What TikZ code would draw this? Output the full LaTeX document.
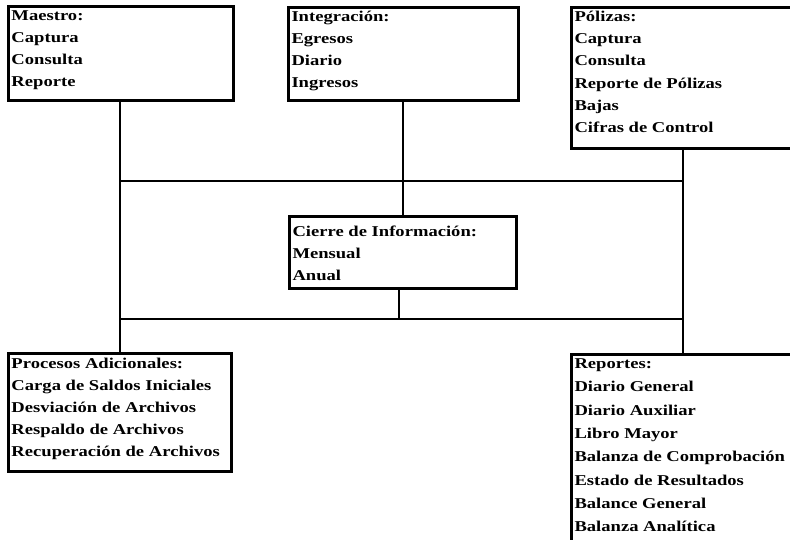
\documentclass[tikz,border=0pt]{standalone}
\usepackage{fontspec}
\setmainfont{Liberation Serif}[FakeStretch=1.24]
% width, height, first-line offset, line spacing, text
\newcommand{\boxtxt}[5]{\parbox[c][#2][t]{#1}{\baselineskip=#4\relax\rule{0pt}{#3}#5}}
\begin{document}
\begin{tikzpicture}[x=1pt,y=-1pt,
  mbox/.style={draw, line width=3pt, rectangle, anchor=north west, inner xsep=3pt, inner ysep=0pt,
    font=\fontsize{15}{22}\selectfont\bfseries},
  conn/.style={line width=1.6pt}]
\useasboundingbox (0,0) rectangle (790,539);
\clip (0,0) rectangle (790,539);
\node[mbox] (maestro) at (7,5) {\boxtxt{219pt}{94pt}{14pt}{22pt}{Maestro:\\Captura\\Consulta\\Reporte}};
\node[mbox] (integ) at (287,6) {\boxtxt{224pt}{93pt}{13.5pt}{22pt}{Integración:\\Egresos\\Diario\\Ingresos}};
\node[mbox] (polizas) at (570,6) {\boxtxt{234pt}{141pt}{14pt}{22.2pt}{Pólizas:\\Captura\\Consulta\\Reporte de Pólizas\\Bajas\\Cifras de Control}};
\node[mbox] (cierre) at (288,215) {\boxtxt{221pt}{72pt}{20pt}{22pt}{Cierre de Información:\\Mensual\\Anual}};
\node[mbox] (procesos) at (7,352) {\boxtxt{217pt}{118pt}{14.5pt}{22pt}{Procesos Adicionales:\\Carga de Saldos Iniciales\\Desviación de Archivos\\Respaldo de Archivos\\Recuperación de Archivos}};
\node[mbox] (reportes) at (570,353) {\boxtxt{234pt}{200pt}{14pt}{23.3pt}{Reportes:\\Diario General\\Diario Auxiliar\\Libro Mayor\\Balanza de Comprobación\\Estado de Resultados\\Balance General\\Balanza Analítica}};
\coordinate (lx) at (120,0);
\coordinate (rx) at (683,0);
\coordinate (mx) at (403,0);
\coordinate (mxb) at (399,0);
\coordinate (uh) at (0,181);
\coordinate (lh) at (0,319);
\draw[conn] (maestro.south -| lx) -- (procesos.north -| lx);
\draw[conn] (polizas.south -| rx) -- (reportes.north -| rx);
\draw[conn] (integ.south -| mx) -- (cierre.north -| mx);
\draw[conn] (cierre.south -| mxb) -- (lh -| mxb);
\draw[conn] (uh -| lx) -- (uh -| rx);
\draw[conn] (lh -| lx) -- (lh -| rx);
\end{tikzpicture}
\end{document}
